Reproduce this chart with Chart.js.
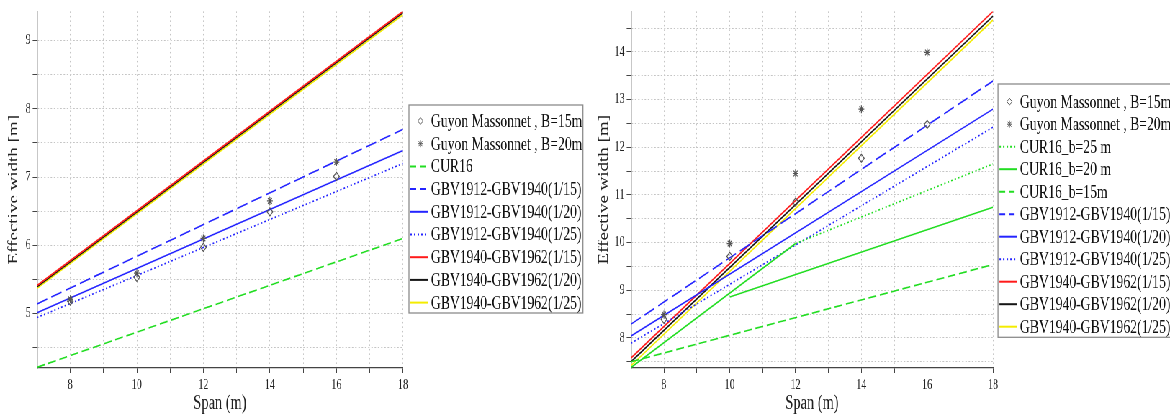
<!DOCTYPE html>
<html>
<head>
<meta charset="utf-8">
<script src="https://cdn.jsdelivr.net/npm/chart.js@4.4.1/dist/chart.umd.min.js"></script>
<style>
  html, body { margin: 0; padding: 0; background: #fff; overflow: hidden; }
  /* the source picture is squeezed horizontally, so draw wide and squeeze */
  #stage { position: absolute; left: 0; top: 0; width: 1625px; height: 416px;
           transform: scaleX(0.72); transform-origin: 0 0; }
  #leftChart  { position: absolute; left: 0;     top: 0; }
  #rightChart { position: absolute; left: 815px; top: 0; }
</style>
</head>
<body>
<div id="stage">
  <canvas id="leftChart"  width="815" height="416"></canvas>
  <canvas id="rightChart" width="810" height="416"></canvas>
</div>
<script>
/* --- Data ----------------------------------------------------------------- */
const guyonSpans = [8, 10, 12, 14, 16];
const lineSpans  = [7, 18];

// left panel
const leftGuyon15   = [5.18, 5.53, 5.97, 6.49, 7.01];
const leftGuyon20   = [5.21, 5.59, 6.10, 6.65, 7.22];
const leftCur16     = [4.21, 6.10];
const left1912_15   = [5.14, 7.70];
const left1912_20   = [5.01, 7.39];
const left1912_25   = [4.94, 7.20];
const left1940_15   = [5.41, 9.43];
const left1940_20   = [5.39, 9.41];
const left1940_25   = [5.37, 9.38];

// right panel
const rightGuyon15  = [8.39, 9.71, 10.85, 11.77, 12.48];
const rightGuyon20  = [8.49, 9.98, 11.45, 12.80, 13.99];
const cur25Spans    = [12, 18];
const rightCur25    = [9.98, 11.65];
const cur20Spans    = [7, 12, 12, 10, 18];
const rightCur20    = [7.38, 9.98, null, 8.86, 10.74];
const rightCur15    = [7.50, 9.54];
const right1912_15  = [8.29, 13.39];
const right1912_20  = [8.04, 12.80];
const right1912_25  = [7.89, 12.42];
const right1940_15  = [7.58, 14.85];
const right1940_20  = [7.50, 14.75];
const right1940_25  = [7.42, 14.67];

/* --- Styles --------------------------------------------------------------- */
const RED = '#ff1a1a', BLACK = '#151515', YELLOW = '#f4ec00';
const BLUE = '#2424ff', GREEN = '#22dd22', MARK = '#555555', GRID = '#c4c4c4';
const SERIF = "'Liberation Serif', 'Times New Roman', serif";
const DASHED = [15, 6], DOTTED = [2, 3], GDASH = [11, 5];

/* --- Helpers -------------------------------------------------------------- */
function pts(xs, ys) { return xs.map((x, i) => ({ x: x, y: ys[i] })); }

function line(label, xs, ys, color, dash, legendDash) {
  return { label, data: pts(xs, ys), borderColor: color, backgroundColor: color,
           borderWidth: 1.6, borderDash: dash || [], pointRadius: 0, showLine: true,
           fill: false, legendDash: legendDash || [] };
}

function marks(label, ys, style) {
  return { label, data: pts(guyonSpans, ys), showLine: false, pointStyle: style,
           pointRadius: 4, pointBorderWidth: 1.2, borderColor: MARK,
           backgroundColor: 'rgba(255,255,255,0)' };
}

function axes(ymin, ymax, yWidth, yTitlePad) {
  return {
    x: {
      type: 'linear', min: 7, max: 18,
      afterFit: s => { s.height = 48; },
      ticks: { stepSize: 1, autoSkip: false, includeBounds: false, maxRotation: 0,
               padding: 4, color: '#222', font: { family: SERIF, size: 14 },
               callback: v => (v % 2 === 0 ? v : '') },
      grid: { color: GRID, lineWidth: 1, tickColor: '#444', tickLength: 5 },
      border: { display: true, color: '#444', width: 1.3, dash: [1.5, 3] },
      title: { display: true, text: 'Span (m)', color: '#222',
               font: { family: SERIF, size: 20 }, padding: { top: 0, bottom: 0 } }
    },
    y: {
      type: 'linear', min: ymin, max: ymax,
      afterFit: s => { s.width = yWidth; },
      ticks: { stepSize: 0.5, autoSkip: false, includeBounds: false, padding: 3,
               color: '#222', font: { family: SERIF, size: 14 },
               callback: v => (Number.isInteger(v) ? v : '') },
      grid: { color: GRID, lineWidth: 1, tickColor: '#444', tickLength: 6 },
      border: { display: true, color: '#444', width: 1.3, dash: [2, 2.5] },
      title: { display: true, text: 'Effective width [m]', color: '#222',
               font: { family: SERIF, size: 19 }, padding: { top: yTitlePad, bottom: 0 } }
    }
  };
}

/* boxed legend at a fixed spot, drawn from the datasets */
const boxLegend = {
  id: 'boxLegend',
  afterDraw(chart, args, o) {
    const ctx = chart.ctx;
    const sets = chart.data.datasets;
    ctx.save();
    ctx.fillStyle = '#fff';
    ctx.fillRect(o.left, o.top, o.width, o.height);
    ctx.strokeStyle = '#8c8c8c';
    ctx.lineWidth = 1.3;
    ctx.strokeRect(o.left, o.top, o.width, o.height);
    ctx.font = '19px ' + SERIF;
    ctx.textBaseline = 'middle';
    sets.forEach((ds, i) => {
      const y = o.top + o.first + i * o.rowH;
      if (ds.showLine === false) {
        ctx.fillStyle = 'rgba(255,255,255,0)';
        ctx.strokeStyle = MARK;
        ctx.lineWidth = 1;
        Chart.helpers.drawPoint(ctx, { pointStyle: ds.pointStyle, radius: 3.5, borderWidth: 1, rotation: 0 },
                                o.left + 16, y);
      } else {
        ctx.strokeStyle = ds.borderColor;
        ctx.lineWidth = 2;
        ctx.setLineDash(ds.legendDash);
        ctx.beginPath();
        ctx.moveTo(o.left + 2, y);
        ctx.lineTo(o.left + 26, y);
        ctx.stroke();
        ctx.setLineDash([]);
      }
      ctx.fillStyle = '#111';
      ctx.fillText(ds.label, o.left + 30.5, y + 1);
    });
    ctx.restore();
  }
};

function makeChart(id, datasets, ymin, ymax, yWidth, yTitlePad, padRight, legendOpts) {
  return new Chart(document.getElementById(id), {
    type: 'scatter',
    data: { datasets },
    options: {
      responsive: false, animation: false,
      layout: { padding: { left: 0, right: padRight, top: 10, bottom: 0 } },
      scales: axes(ymin, ymax, yWidth, yTitlePad),
      plugins: { legend: { display: false }, tooltip: { enabled: false }, boxLegend: legendOpts }
    },
    plugins: [boxLegend]
  });
}

/* --- Charts --------------------------------------------------------------- */
makeChart('leftChart', [
  marks('Guyon Massonnet , B=15m', leftGuyon15, 'rectRot'),
  marks('Guyon Massonnet , B=20m', leftGuyon20, 'star'),
  line('CUR16', lineSpans, leftCur16, GREEN, GDASH, [8, 5]),
  line('GBV1912-GBV1940(1/15)', lineSpans, left1912_15, BLUE, DASHED, [8, 5]),
  line('GBV1912-GBV1940(1/20)', lineSpans, left1912_20, BLUE),
  line('GBV1912-GBV1940(1/25)', lineSpans, left1912_25, BLUE, DOTTED, [2, 3]),
  line('GBV1940-GBV1962(1/15)', lineSpans, left1940_15, RED),
  line('GBV1940-GBV1962(1/20)', lineSpans, left1940_20, BLACK),
  line('GBV1940-GBV1962(1/25)', lineSpans, left1940_25, YELLOW)
], 4.2, 9.43, 51.4, 8, 255.3,
  { left: 568, top: 105, width: 241.7, height: 208, first: 16, rowH: 22.7 });

makeChart('rightChart', [
  marks('Guyon Massonnet , B=15m', rightGuyon15, 'rectRot'),
  marks('Guyon Massonnet , B=20m', rightGuyon20, 'star'),
  line('CUR16_b=25 m', cur25Spans, rightCur25, GREEN, DOTTED, [2, 3]),
  line('CUR16_b=20 m', cur20Spans, rightCur20, GREEN),
  line('CUR16_b=15m', lineSpans, rightCur15, GREEN, GDASH, [8, 5]),
  line('GBV1912-GBV1940(1/15)', lineSpans, right1912_15, BLUE, DASHED, [8, 5]),
  line('GBV1912-GBV1940(1/20)', lineSpans, right1912_20, BLUE),
  line('GBV1912-GBV1940(1/25)', lineSpans, right1912_25, BLUE, DOTTED, [2, 3]),
  line('GBV1940-GBV1962(1/15)', lineSpans, right1940_15, RED),
  line('GBV1940-GBV1962(1/20)', lineSpans, right1940_20, BLACK),
  line('GBV1940-GBV1962(1/25)', lineSpans, right1940_25, YELLOW)
], 7.37, 14.85, 61.4, 12.5, 245.8,
  { left: 571.1, top: 84, width: 242, height: 253.3, first: 17.7, rowH: 22.5 });
</script>
</body>
</html>
